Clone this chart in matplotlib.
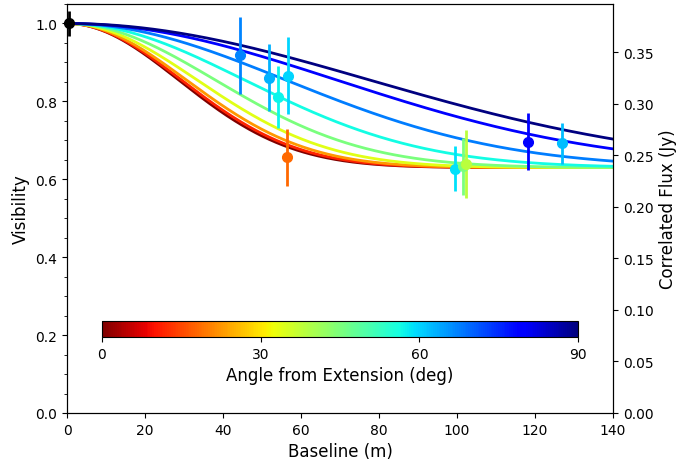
import numpy as np
import matplotlib
matplotlib.use("Agg")
import matplotlib.pyplot as plt
from matplotlib import cm, colors

# Model curves: angle (deg) and Gaussian width (m)
curve_angles = [0.0, 11.25, 22.5, 33.75, 45.0, 56.25, 67.5, 78.75, 90.0]
curve_widths = [40.6, 41.6, 43.4, 47.3, 53.9, 64.5, 79.5, 98.0, 110.0]
plateau = 0.63

# Measurements
pt_baseline = [0.5, 44.4, 51.8, 54.1, 56.7, 56.3, 99.5, 101.6, 102.2, 118.3, 126.8]
pt_vis      = [1.0, 0.918, 0.861, 0.811, 0.866, 0.657, 0.627, 0.633, 0.639, 0.697, 0.692]
pt_err      = [0.032, 0.098, 0.086, 0.080, 0.099, 0.073, 0.058, 0.073, 0.087, 0.072, 0.052]
pt_angle    = [None, 67, 63, 57, 60, 18, 59, 45, 38, 79, 62]

flux_per_vis = 0.378

fig = plt.figure(figsize=(6.81, 4.60), dpi=100)
ax = fig.add_axes([67/681, 1-414/460, (613-67)/681, (414-5)/460])

cmap = plt.get_cmap('jet_r')
norm = colors.Normalize(vmin=0, vmax=90)

B = np.linspace(0, 140, 400)
for ang, w in zip(curve_angles, curve_widths):
    V = plateau + (1 - plateau) * np.exp(-(B / w) ** 2)
    ax.plot(B, V, color=cmap(norm(ang)), lw=2)

for b, v, e, a in zip(pt_baseline, pt_vis, pt_err, pt_angle):
    c = 'black' if a is None else cmap(norm(a))
    ax.errorbar([b], [v], yerr=[e], fmt='o', color=c, ms=7, elinewidth=2,
                capsize=0, clip_on=False, zorder=5)

ax.set_xlim(0, 140)
ax.set_ylim(0, 1.05)
ax.set_xticks(np.arange(0, 141, 20))
ax.set_yticks(np.arange(0, 1.01, 0.2))
ax.set_yticks(np.arange(0, 1.051, 0.05), minor=True)
ax.set_xlabel('Baseline (m)', fontsize=12)
ax.set_ylabel('Visibility', fontsize=12)
ax.tick_params(labelsize=10)

ax2 = ax.twinx()
ax2.set_ylim(0, 1.05 * flux_per_vis)
ax2.set_yticks(np.arange(0, 0.351, 0.05))
ax2.set_ylabel('Correlated Flux (Jy)', fontsize=12)
ax2.tick_params(labelsize=10)

cax = fig.add_axes([102/681, 1-338/460, (578-102)/681, 16/460])
sm = cm.ScalarMappable(norm=norm, cmap=cmap)
cb = fig.colorbar(sm, cax=cax, orientation='horizontal')
cb.set_ticks([0, 30, 60, 90])
cb.ax.tick_params(labelsize=10)
cb.set_label('Angle from Extension (deg)', fontsize=12)

fig.savefig('out.png', dpi=100)
